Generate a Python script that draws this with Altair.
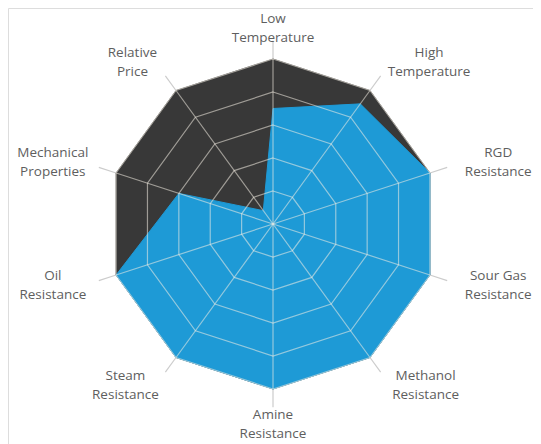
import math
import altair as alt
import pandas as pd

# ---- data ----
categories = ["Low Temperature", "High Temperature", "RGD Resistance",
              "Sour Gas Resistance", "Methanol Resistance", "Amine Resistance",
              "Steam Resistance", "Oil Resistance", "Mechanical Properties",
              "Relative Price"]
label_lines = [["Low", "Temperature"], ["High", "Temperature"], ["RGD", "Resistance"],
               ["Sour Gas", "Resistance"], ["Methanol", "Resistance"], ["Amine", "Resistance"],
               ["Steam", "Resistance"], ["Oil", "Resistance"], ["Mechanical", "Properties"],
               ["Relative", "Price"]]
dark_values = [10, 10, 10, 10, 10, 10, 10, 10, 10, 10]
blue_values = [7, 9, 10, 10, 10, 10, 10, 10, 6, 1]
grid_levels = [2, 4, 6, 8, 10]
max_value = 10

# ---- geometry / style ----
PX = 16.5            # pixels per value unit
W, H = 525, 436
CX, CY = 265, 216    # centre of the radar in chart pixels
x_dom = [-CX / PX, (W - CX) / PX]
y_dom = [(CY - H) / PX, CY / PX]
n = len(categories)
ang = [2 * math.pi * i / n for i in range(n)]

xs = alt.Scale(domain=x_dom, nice=False, zero=False)
ys = alt.Scale(domain=y_dom, nice=False, zero=False)

def poly(values, name):
    return pd.DataFrame({
        "series": name,
        "idx": list(range(n)),
        "cat": categories,
        "value": values,
        "x": [v * math.sin(a) for v, a in zip(values, ang)],
        "y": [v * math.cos(a) for v, a in zip(values, ang)],
    })

df_dark = poly(dark_values, "dark")
df_blue = poly(blue_values, "blue")

rows = []
for lv in grid_levels:
    for i, a in enumerate(ang):
        rows.append({"level": lv, "idx": i, "x": lv * math.sin(a), "y": lv * math.cos(a)})
df_rings = pd.DataFrame(rows)

df_spokes = pd.DataFrame({
    "cat": categories,
    "x0": [0.0] * n, "y0": [0.0] * n,
    "x1": [max_value * math.sin(a) for a in ang],
    "y1": [max_value * math.cos(a) for a in ang],
})
ext = 11.1
df_ext = pd.DataFrame({
    "cat": categories,
    "x0": [max_value * math.sin(a) for a in ang],
    "y0": [max_value * math.cos(a) for a in ang],
    "x1": [ext * math.sin(a) for a in ang],
    "y1": [ext * math.cos(a) for a in ang],
})

anchor = 200 / PX
lab_x, lab_y, lab_t = [], [], []
for lines, a in zip(label_lines, ang):
    s, c = math.sin(a), math.cos(a)
    w = 7.0 * max(len(t) for t in lines)
    side = 1 if s > 0.1 else (-1 if s < -0.1 else 0)
    shift = 5 if side < 0 else 0
    top_nudge = 4 if (side == 0 and c > 0) else 0
    lab_x.append(anchor * s + (side * w / 2 + shift) / PX)
    lab_y.append(anchor * c - top_nudge / PX)
    lab_t.append("\n".join(lines))
df_lab = pd.DataFrame({"x": lab_x, "y": lab_y, "text": lab_t})

DARK = "#383838"
BLUE = "#1e9ad6"

enc_xy = dict(x=alt.X("x:Q", scale=xs, axis=None), y=alt.Y("y:Q", scale=ys, axis=None))

dark = alt.Chart(df_dark).mark_line(
    interpolate="linear-closed", fill=DARK, stroke=DARK, strokeWidth=1
).encode(order="idx:Q", **enc_xy)

blue = alt.Chart(df_blue).mark_line(
    interpolate="linear-closed", fill=BLUE, stroke=BLUE, strokeWidth=1
).encode(order="idx:Q", **enc_xy)

rings = alt.Chart(df_rings).mark_line(
    interpolate="linear-closed", stroke="#f4eee4", strokeOpacity=0.55, strokeWidth=1.2
).encode(detail="level:N", order="idx:Q", **enc_xy)

spokes = alt.Chart(df_spokes).mark_rule(
    color="#f4eee4", opacity=0.55, strokeWidth=1.2
).encode(
    x=alt.X("x0:Q", scale=xs, axis=None), y=alt.Y("y0:Q", scale=ys, axis=None),
    x2="x1:Q", y2="y1:Q",
)

exts = alt.Chart(df_ext).mark_rule(color="#cccccc", strokeWidth=1.2).encode(
    x=alt.X("x0:Q", scale=xs, axis=None), y=alt.Y("y0:Q", scale=ys, axis=None),
    x2="x1:Q", y2="y1:Q",
)

labels = alt.Chart(df_lab).mark_text(
    lineBreak="\n", align="center", baseline="middle", lineHeight=19, dy=-9.5,
    fontSize=13.5, font="Open Sans", color="#5e5e5e"
).encode(text="text:N", **enc_xy)

chart = alt.layer(exts, dark, blue, rings, spokes, labels).properties(
    width=W, height=H, padding=0, autosize=alt.AutoSizeParams(type="none")
).configure_view(strokeWidth=0).configure(background="white")

chart.save("out.html", embed_options={"renderer": "svg", "actions": False})
